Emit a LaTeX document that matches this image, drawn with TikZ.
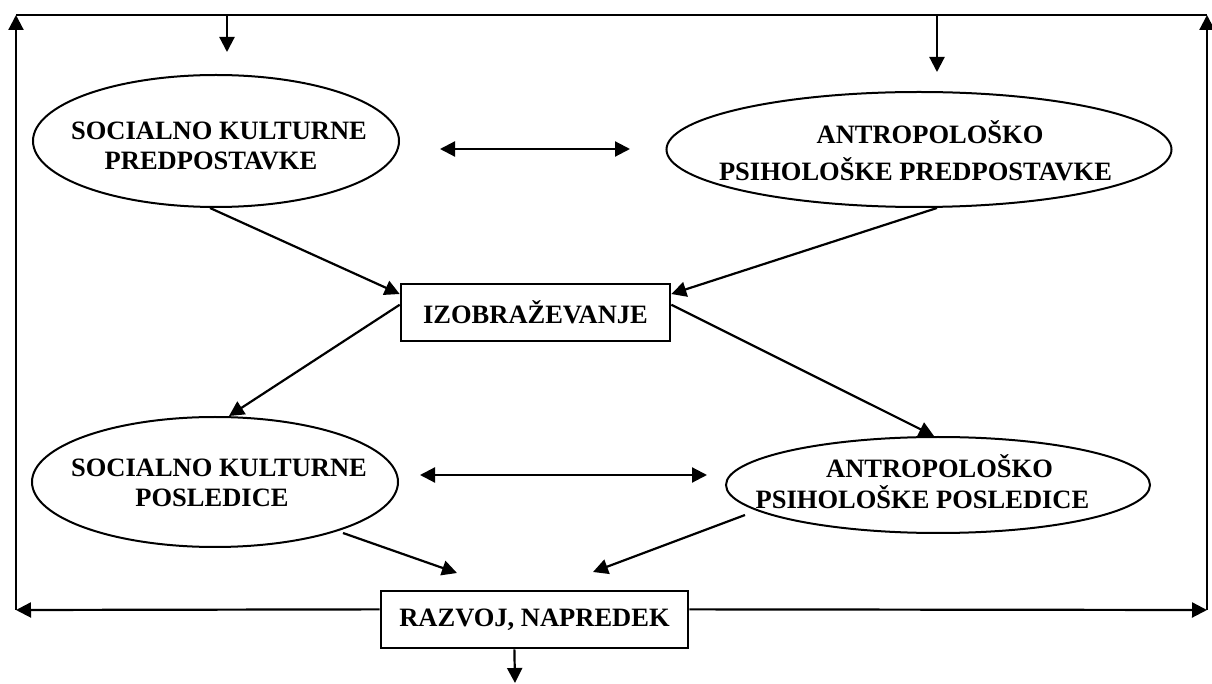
\documentclass[tikz,border=0pt]{standalone}
\usepackage{fontspec}
\setmainfont{Liberation Serif}
\usetikzlibrary{arrows.meta,shapes.geometric,calc}
\begin{document}
\begin{tikzpicture}[x=0.5pt,y=-0.5pt,
  line width=1.1pt,
  tip/.style={-{Triangle[length=7.5pt,width=7.5pt]}},
  both/.style={{Triangle[length=7.5pt,width=7.5pt]}-{Triangle[length=7.5pt,width=7.5pt]}},
  oval/.style={draw, ellipse, inner sep=0pt, line width=1pt},
  txt/.style={font=\fontsize{13.25}{15}\selectfont\bfseries, align=center, inner sep=0pt},
  stepbox/.style={draw, rectangle, line width=1.3pt, inner sep=0pt,
    font=\fontsize{13.25}{15}\selectfont\bfseries}
]
\fill[white] (0,0) rectangle (1212,684);
\useasboundingbox (0,0) rectangle (1212,684);

% ellipses and their labels
\node[oval, minimum width=183pt, minimum height=66pt] (e1) at (216,141) {};
\node[txt] (e1t) at (219,146) {SOCIALNO KULTURNE\\PREDPOSTAVKE\hspace*{8pt}};
\node[oval, minimum width=252.5pt, minimum height=57.5pt] (e2) at (919,149.5) {};
\node[txt] (e2t) at (915.5,150.5) {\hspace*{14.5pt}ANTROPOLOŠKO\\[3.5pt]PSIHOLOŠKE PREDPOSTAVKE};
\node[oval, minimum width=183pt, minimum height=65pt] (e3) at (215,482) {};
\node[txt] (e3t) at (219,482.5) {SOCIALNO KULTURNE\\POSLEDICE\hspace*{7pt}};
\node[oval, minimum width=212pt, minimum height=48pt] (e4) at (938,485) {};
\node[txt] (e4t) at (922.5,482) {\hspace*{17pt}ANTROPOLOŠKO\\[0.5pt]PSIHOLOŠKE POSLEDICE};

% boxes
\node[stepbox, minimum width=134.5pt, minimum height=28.5pt] (izo) at (535.5,312.5) {IZOBRAŽEVANJE};
\node[stepbox, minimum width=153.5pt, minimum height=28.5pt] (raz) at (534.5,619.5) {RAZVOJ, NAPREDEK};

% frame corners and free ends
\coordinate (cTL) at (16,15);
\coordinate (cTR) at (1207,15);
\coordinate (cBL) at (16,610);
\coordinate (cBR) at (1207,610);
\coordinate (d1) at (227,15);
\coordinate (d1e) at (227,52);
\coordinate (d2) at (937,15);
\coordinate (d2e) at (937,72);
\coordinate (out) at (515,683);
\coordinate (h1a) at (440,149);
\coordinate (h1b) at (630,149);
\coordinate (h2a) at (420,475);
\coordinate (h2b) at (707,475);
\coordinate (s5) at (343,533);
\coordinate (r5) at (457,573);
\coordinate (s6) at (745,515);
\coordinate (r6) at (593,572);

% feedback frame
\draw[tip] ($(raz.north west)!0.33!(raz.south west)$) -- (cBL);
\draw[tip] (cBL) -- (cTL);
\draw (cTL) -- (cTR);
\draw[tip] ($(raz.north east)!0.33!(raz.south east)$) -- (cBR);
\draw[tip] (cBR) -- (cTR);
\draw[tip] (d1) -- (d1e);
\draw[tip] (d2) -- (d2e);
\draw[tip] ($(raz.south west)!0.435!(raz.south east)$) -- (out);

% mutual links
\draw[both] (h1a) -- (h1b);
\draw[both] (h2a) -- (h2b);

% flow through education
\draw[tip] ($(e1.south)+(-6,0)$) -- ($(izo.north west)!0.19!(izo.south west)$);
\draw[tip] ($(e2.south)+(18,0)$) -- ($(izo.north east)!0.19!(izo.south east)$);
\draw[tip] ($(izo.north west)!0.37!(izo.south west)$) -- ($(e3.north)+(14,0)$);
\draw[tip] ($(izo.north east)!0.37!(izo.south east)$) -- ($(e4.north)+(-4,0)$);
\draw[tip] (s5) -- (r5);
\draw[tip] (s6) -- (r6);
\end{tikzpicture}
\end{document}
